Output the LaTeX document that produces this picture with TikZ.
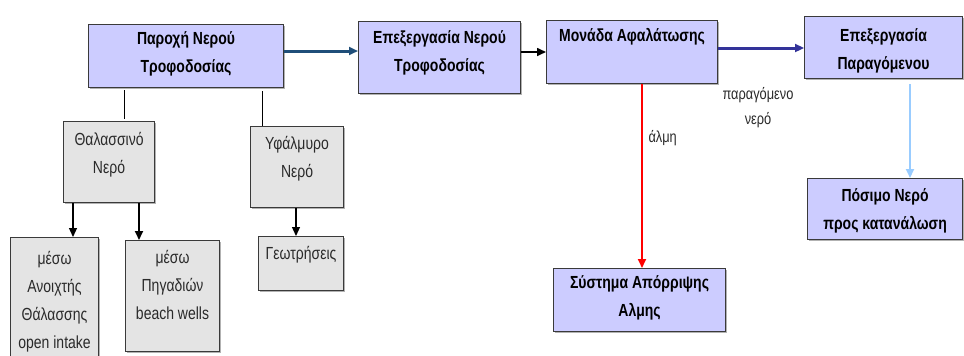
\documentclass[tikz,border=0pt]{standalone}
\usepackage{fontspec}
\setmainfont{Liberation Sans}[FakeStretch=0.8]
\usetikzlibrary{arrows.meta,shadows}
\definecolor{lav}{HTML}{CCCCFF}
\definecolor{gbox}{HTML}{E4E4E4}
\definecolor{edge}{HTML}{3A3A3A}
\definecolor{navy}{HTML}{1F4E79}
\definecolor{indig}{HTML}{333399}
\definecolor{lblue}{HTML}{99CCFF}
\definecolor{thin}{HTML}{5B5BB0}
\definecolor{txtg}{HTML}{2A2A2A}
\newcommand\tbx[1]{\begin{tabular}[t]{@{}c@{}}#1\end{tabular}}
\begin{document}
\begin{tikzpicture}[x=1pt,y=-1pt,
  base/.style={draw=edge, line width=1.1pt, anchor=north west,
    inner sep=2pt, font=\fontsize{17.5}{28}\selectfont, text height=12pt,
    drop shadow={shadow xshift=1.5pt, shadow yshift=-1.5pt, opacity=0.5, fill=black!60}},
  lbox/.style={base, fill=lav, font=\bfseries\fontsize{17.5}{28}\selectfont},
  gbx/.style={base, fill=gbox, text=txtg},
  tip/.style={-{Triangle[length=9pt,width=8pt]}},
  lab/.style={font=\fontsize{16}{25}\selectfont, text=txtg}
]
\useasboundingbox[fill=white] (0,0) rectangle (964,356);

% lavender boxes
\node[lbox, minimum width=195, minimum height=63, text depth=36pt] (n1) at (88,24) {\tbx{Παροχή Νερού\\Τροφοδοσίας}};
\node[lbox, minimum width=162, minimum height=72, text depth=41pt] (n2) at (358,21) {\tbx{Επεξεργασία Νερού\\Τροφοδοσίας}};
\node[lbox, minimum width=171, minimum height=63, text depth=34pt] (n3) at (546,20) {\tbx{Μονάδα Αφαλάτωσης}};
\node[lbox, minimum width=158, minimum height=62, text depth=25pt] (n4) at (804,16) {\tbx{Επεξεργασία\\Παραγόμενου}};
\node[lbox, minimum width=155, minimum height=61, text depth=28pt] (n5) at (807,178) {\tbx{Πόσιμο Νερό\\προς κατανάλωση}};
\node[lbox, minimum width=172, minimum height=63, text depth=36pt] (n6) at (553,268) {\tbx{Σύστημα Απόρριψης\\Αλμης}};

% gray boxes
\node[gbx, minimum width=91, minimum height=81, text depth=46pt] (n7) at (63,121) {\tbx{Θαλασσινό\\Νερό}};
\node[gbx, minimum width=93, minimum height=81, text depth=48pt] (n8) at (250,126) {\tbx{Υφάλμυρο\\Νερό}};
\node[gbx, minimum width=88, minimum height=125, text depth=84pt] (n9) at (10,237) {\tbx{μέσω\\Ανοιχτής\\Θάλασσης\\open intake}};
\node[gbx, minimum width=94, minimum height=111, text depth=78pt] (n10) at (125,240) {\tbx{μέσω\\Πηγαδιών\\beach wells}};
\node[gbx, minimum width=85, minimum height=54, text depth=21pt] (n11) at (258,236) {\tbx{Γεωτρήσεις}};

% main flow
\draw[tip, navy, line width=3pt] (n1.east |- 0,51) -- (n2.west |- 0,51);
\draw[tip, black, line width=1.6pt] (n2.east |- 0,52) -- (n3.west |- 0,52);
\draw[tip, indig, line width=3pt] (n3.east |- 0,48) -- (n4.west |- 0,48);
\draw[tip, red, line width=1.8pt] (n3.south -| 642,0) -- (n6.north -| 642,0);
\draw[tip, lblue, line width=1.8pt] ([yshift=-5pt]n4.south -| 910,0) -- (n5.north -| 910,0);

% sources
\draw[thin, line width=0.9pt, shorten <=2pt, shorten >=2pt] (n1.south -| 124,0) -- (n7.north -| 124,0);
\draw[thin, line width=0.9pt, shorten <=3pt] (n1.south -| 262,0) -- (n8.north -| 262,0);
\draw[tip, black, line width=1.2pt] (n7.south -| 73,0) -- (n9.north -| 73,0);
\draw[tip, black, line width=1.8pt] (n7.south -| 139,0) -- (n10.north -| 139,0);
\draw[tip, black, line width=1.2pt] (n8.south -| 296,0) -- (n11.north -| 296,0);

% labels
\node[lab, anchor=west] (l1) at (645,138) {άλμη};
\node[lab, align=center] (l2) at (758,108) {παραγόμενο\\νερό};
\end{tikzpicture}
\end{document}
